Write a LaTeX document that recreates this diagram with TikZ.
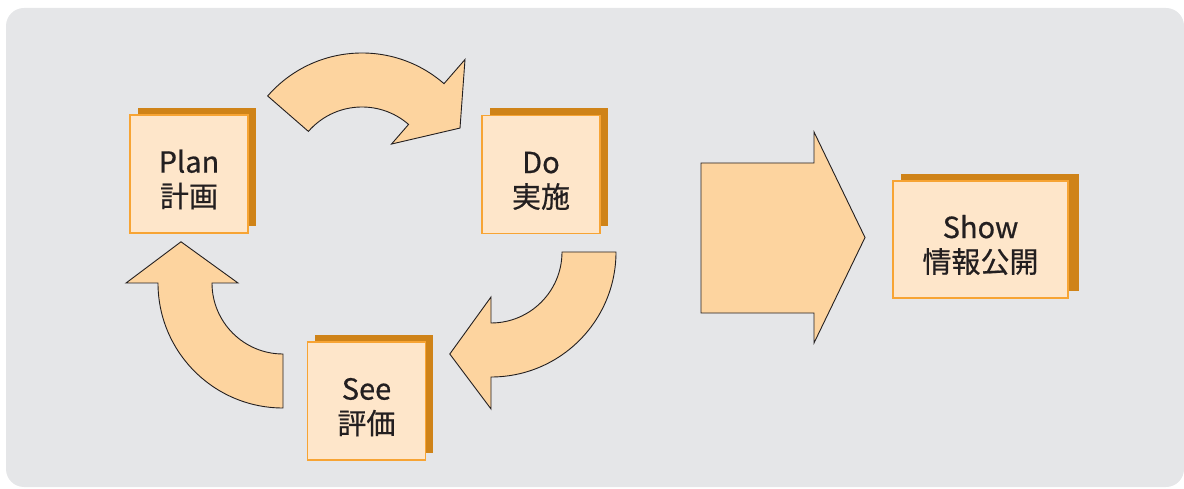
\documentclass[tikz,border=0pt]{standalone}
\usepackage{fontspec}
\setmainfont{Noto Sans CJK JP}
\newfontfamily\boxfont{Noto Sans CJK JP}[FakeBold=0.6]
\usetikzlibrary{shadows}
\definecolor{bggray}{HTML}{E5E6E8}
\definecolor{arrowfill}{HTML}{FDD49F}
\definecolor{boxfill}{HTML}{FEE6CA}
\definecolor{boxborder}{HTML}{F7A434}
\definecolor{boxshadow}{HTML}{CF8318}
\definecolor{textc}{HTML}{231F20}
\newcommand{\tstrut}{\rule{0pt}{34pt}}
\tikzset{
  stagebox/.style={draw=boxborder, line width=1.2pt, fill=boxfill, rectangle,
    minimum width=118pt, minimum height=118pt, inner sep=0pt, align=center,
    text=textc, font=\boxfont\fontsize{29}{34.5}\selectfont,
    copy shadow={shadow xshift=7.5pt, shadow yshift=7pt, fill=boxshadow, draw=none}},
  showbox/.style={stagebox, minimum width=175pt, minimum height=117pt,
    copy shadow={shadow xshift=10.5pt, shadow yshift=7pt, fill=boxshadow, draw=none}},
  blockarrow/.style={draw=textc, line width=0.9pt, fill=arrowfill, line join=miter}
}
\newcommand{\cyclearrow}[4]{%
  \draw[blockarrow, shift={(#1,#2)}]
    (#3:125) arc[start angle=#3, end angle=#4, radius=125]
    -- (#4:157) -- ({#4-22}:110) -- (#4:45) -- (#4:71)
    arc[start angle=#4, end angle=#3, radius=71] -- cycle;}
\begin{document}
\begin{tikzpicture}[x=1pt, y=1pt]
\useasboundingbox (0,0) rectangle (1184,488);
\fill[bggray, rounded corners=18pt] (6,1) rectangle (1184,480);
% curved cycle arrows
\cyclearrow{362}{310}{139}{49}
\cyclearrow{491}{236}{0}{-90}
\cyclearrow{283}{205}{270}{180}
% big arrow
\draw[blockarrow] (701,175) -- (814,175) -- (814,145) -- (865,250.5)
  -- (814,356) -- (814,325) -- (701,325) -- cycle;
% boxes
\node[stagebox] (plan) at (189,314) {\tstrut Plan\\計画};
\node[stagebox] (do) at (541,313.5) {\tstrut Do\\実施};
\node[stagebox] (see) at (366.5,87) {\tstrut See\\評価};
\node[showbox] (show) at (980.5,248.5) {\tstrut Show\\情報公開};
\end{tikzpicture}
\end{document}
